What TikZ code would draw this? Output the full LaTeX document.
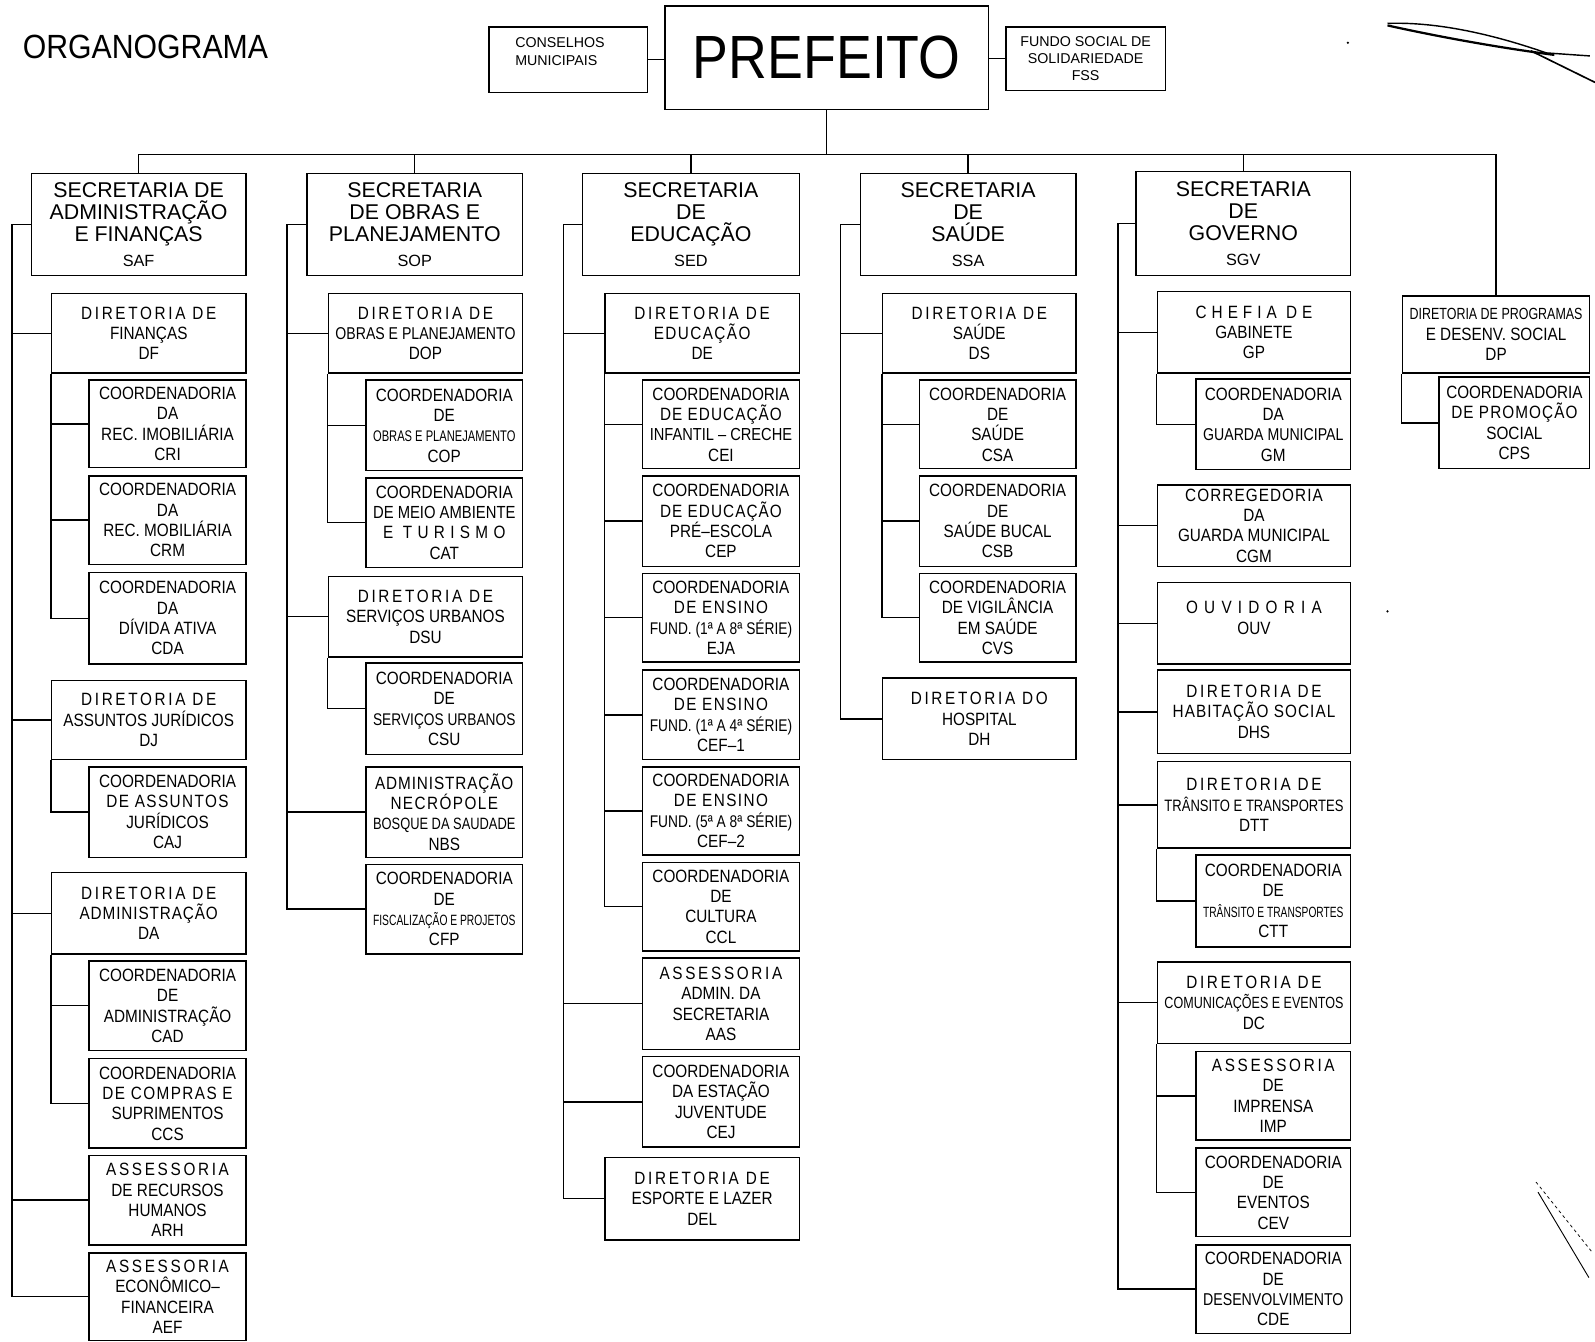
\documentclass[tikz,border=0pt]{standalone}
\usepackage{fontspec}
\usepackage{graphicx}
\setmainfont{Liberation Sans}
\newfontfamily\cf[FakeStretch=0.86]{Liberation Sans}
\newfontfamily\pf[FakeStretch=0.88]{Liberation Sans}
\newfontfamily\tf[FakeStretch=0.9]{Liberation Sans}
\newsavebox\fitbox
\newlength\fitmax
\setlength\fitmax{1000pt}
\newcommand\fl[1]{\sbox\fitbox{#1}%
  \ifdim\wd\fitbox>\fitmax
    \edef\fitr{\fpeval{\the\fitmax/\the\wd\fitbox}}%
    \edef\fity{\fpeval{(1+\fitr)/2}}%
    \scalebox{\fitr}[\fity]{\usebox\fitbox}%
  \else\usebox\fitbox\fi}
\newcommand\ws[2][15]{{\addfontfeatures{LetterSpace=#1}#2}}
\newcommand\abbr{\fontsize{16}{16}\selectfont}
\newcommand\coord{\fl{COORDENADORIA}}
\newcommand\dirde{\fl{\ws{DIRETORIA DE}}}
\tikzset{
  bx/.style={draw, line width=1.5pt, inner sep=0pt, anchor=north west, align=center,
    font=\cf\fontsize{17.5}{20}\selectfont},
  sec/.style={font=\fontsize{21}{21.5}\selectfont},
  small/.style={font=\fontsize{14}{16.5}\selectfont},
  big/.style={font=\pf\fontsize{60}{60}\selectfont},
  conn/.style={line width=1.4pt},
}
\newcommand\bxn[7][]{\node[bx,#1, minimum width={#5-#3}, minimum height={#6-#4},
  execute at begin node={\setlength\fitmax{\dimexpr #5pt-#3pt-14pt\relax}}] (#2) at (#3,#4) {#7};}
\begin{document}
\begin{tikzpicture}[x=1pt,y=-1pt]
\useasboundingbox (0,0) rectangle (1568,1319);
% title
\node[anchor=west, font=\tf\fontsize{33}{33}\selectfont] (title) at (19,46) {ORGANOGRAMA};
% top
\bxn{cons}{480}{26}{636}{90}{}
\node[anchor=west, align=left, font=\fontsize{14}{18}\selectfont] (constxt) at (503,51) {CONSELHOS\\MUNICIPAIS};
\bxn[big]{pref}{653}{5}{971}{107}{PREFEITO}
\bxn[small]{fss}{988}{26}{1145}{88}{FUNDO SOCIAL DE\\SOLIDARIEDADE\\FSS}
% secretarias
\bxn[sec]{saf}{30}{170}{241}{270}{SECRETARIA DE\\ADMINISTRAÇÃO\\E FINANÇAS\\[3pt]{\abbr SAF}}
\bxn[sec]{sop}{301}{170}{513}{270}{SECRETARIA\\DE OBRAS E\\PLANEJAMENTO\\[3pt]{\abbr SOP}}
\bxn[sec]{sed}{572}{170}{785}{270}{SECRETARIA\\DE\\EDUCAÇÃO\\[3pt]{\abbr SED}}
\bxn[sec]{ssa}{845}{170}{1057}{270}{SECRETARIA\\DE\\SAÚDE\\[3pt]{\abbr SSA}}
\bxn[sec]{sgv}{1116}{168}{1327}{270}{SECRETARIA\\DE\\GOVERNO\\[3pt]{\abbr SGV}}
% SAF column
\bxn{df}{50}{288}{241}{366}{\dirde\\FINANÇAS\\DF}
\bxn{cri}{87}{373}{241}{459}{\coord\\DA\\\fl{REC. IMOBILIÁRIA}\\CRI}
\bxn{crm}{87}{467}{241}{554}{\coord\\DA\\\fl{REC. MOBILIÁRIA}\\CRM}
\bxn{cda}{87}{562}{241}{652}{\coord\\DA\\\fl{DÍVIDA ATIVA}\\CDA}
\bxn{dj}{50}{668}{241}{746}{\dirde\\\fl{ASSUNTOS JURÍDICOS}\\DJ}
\bxn{caj}{87}{753}{241}{842}{\coord\\\fl{\ws[8]{DE ASSUNTOS}}\\JURÍDICOS\\CAJ}
\bxn{da}{50}{857}{241}{937}{\dirde\\\fl{\ws[5]{ADMINISTRAÇÃO}}\\DA}
\bxn{cad}{87}{944}{241}{1032}{\coord\\DE\\\fl{ADMINISTRAÇÃO}\\CAD}
\bxn{ccs}{87}{1040}{241}{1128}{\coord\\\fl{\ws[8]{DE COMPRAS E}}\\\fl{SUPRIMENTOS}\\CCS}
\bxn{arh}{87}{1135}{241}{1223}{\fl{\ws{ASSESSORIA}}\\\fl{DE RECURSOS}\\HUMANOS\\ARH}
\bxn{aef}{87}{1231}{241}{1317}{\fl{\ws{ASSESSORIA}}\\ECONÔMICO–\\FINANCEIRA\\AEF}
% SOP column
\bxn{dop}{322}{288}{513}{366}{\dirde\\\fl{OBRAS E PLANEJAMENTO}\\DOP}
\bxn{cop}{359}{373}{513}{462}{\coord\\DE\\\fl{OBRAS E PLANEJAMENTO}\\COP}
\bxn{cat}{359}{469}{513}{557}{\coord\\\fl{DE MEIO AMBIENTE}\\\fl{\ws[30]{E TURISMO}}\\CAT}
\bxn{dsu}{322}{566}{513}{645}{\dirde\\\fl{SERVIÇOS URBANOS}\\DSU}
\bxn{csu}{359}{651}{513}{741}{\coord\\DE\\\fl{SERVIÇOS URBANOS}\\CSU}
\bxn{nbs}{359}{753}{513}{842}{\fl{\ws[5]{ADMINISTRAÇÃO}}\\\fl{\ws[8]{NECRÓPOLE}}\\\fl{BOSQUE DA SAUDADE}\\NBS}
\bxn{cfp}{359}{849}{513}{937}{\coord\\DE\\\fl{FISCALIZAÇÃO E PROJETOS}\\CFP}
% SED column
\bxn{de}{594}{288}{785}{366}{\dirde\\\ws[8]{EDUCAÇÃO}\\DE}
\bxn{cei}{631}{373}{785}{460}{\coord\\\fl{\ws[6]{DE EDUCAÇÃO}}\\\fl{INFANTIL – CRECHE}\\CEI}
\bxn{cep}{631}{467}{785}{556}{\coord\\\fl{\ws[6]{DE EDUCAÇÃO}}\\\fl{PRÉ–ESCOLA}\\CEP}
\bxn{eja}{631}{563}{785}{650}{\coord\\\fl{\ws[8]{DE ENSINO}}\\\fl{FUND. (1ª A 8ª SÉRIE)}\\EJA}
\bxn{cefa}{631}{658}{785}{746}{\coord\\\fl{\ws[8]{DE ENSINO}}\\\fl{FUND. (1ª A 4ª SÉRIE)}\\CEF–1}
\bxn{cefb}{631}{753}{785}{840}{\coord\\\fl{\ws[8]{DE ENSINO}}\\\fl{FUND. (5ª A 8ª SÉRIE)}\\CEF–2}
\bxn{ccl}{631}{847}{785}{934}{\coord\\DE\\CULTURA\\CCL}
\bxn{aas}{631}{941}{785}{1031}{\fl{\ws{ASSESSORIA}}\\ADMIN. DA\\SECRETARIA\\AAS}
\bxn{cej}{631}{1038}{785}{1127}{\coord\\\fl{DA ESTAÇÃO}\\JUVENTUDE\\CEJ}
\bxn{del}{594}{1137}{785}{1218}{\dirde\\\fl{ESPORTE E LAZER}\\DEL}
% SSA column
\bxn{ds}{867}{288}{1057}{366}{\dirde\\SAÚDE\\DS}
\bxn{csa}{903}{373}{1057}{460}{\coord\\DE\\SAÚDE\\CSA}
\bxn{csb}{903}{467}{1057}{556}{\coord\\DE\\\fl{SAÚDE BUCAL}\\CSB}
\bxn{cvs}{903}{563}{1057}{650}{\coord\\\fl{DE VIGILÂNCIA}\\\fl{EM SAÚDE}\\CVS}
\bxn{dh}{867}{666}{1057}{746}{\fl{\ws{DIRETORIA DO}}\\HOSPITAL\\DH}
% SGV column
\bxn{gp}{1137}{286}{1327}{366}{\fl{\ws[28]{CHEFIA DE}}\\GABINETE\\GP}
\bxn{gm}{1175}{372}{1327}{461}{\coord\\DA\\\fl{GUARDA MUNICIPAL}\\GM}
\bxn{cgm}{1137}{476}{1327}{556}{\fl{\ws[6]{CORREGEDORIA}}\\DA\\\fl{GUARDA MUNICIPAL}\\CGM}
\bxn{ouv}{1137}{572}{1327}{652}{\fl{\ws[35]{OUVIDORIA}}\\OUV\\[-9pt]}
\bxn{dhs}{1137}{658}{1327}{740}{\dirde\\\fl{\ws[6]{HABITAÇÃO SOCIAL}}\\DHS}
\bxn{dtt}{1137}{748}{1327}{833}{\dirde\\\fl{TRÂNSITO E TRANSPORTES}\\DTT}
\bxn{ctt}{1175}{840}{1327}{930}{\coord\\DE\\\fl{TRÂNSITO E TRANSPORTES}\\CTT}
\bxn{dc}{1137}{945}{1327}{1025}{\dirde\\\fl{COMUNICAÇÕES E EVENTOS}\\DC}
\bxn{imp}{1175}{1033}{1327}{1120}{\fl{\ws{ASSESSORIA}}\\DE\\IMPRENSA\\IMP}
\bxn{cev}{1175}{1128}{1327}{1215}{\coord\\DE\\EVENTOS\\CEV}
\bxn{cde}{1175}{1223}{1327}{1310}{\coord\\DE\\\fl{DESENVOLVIMENTO}\\CDE}
% DP column
\bxn{dp}{1378}{290}{1562}{366}{\fl{DIRETORIA DE PROGRAMAS}\\\fl{E DESENV. SOCIAL}\\DP}
\bxn{cps}{1414}{370}{1562}{460}{\coord\\\fl{\ws[6]{DE PROMOÇÃO}}\\SOCIAL\\CPS}
% trunk coordinates
\coordinate (bus) at (0,152);
\coordinate (t1) at (12,0);
\coordinate (t2) at (282,0);
\coordinate (t3) at (554,0);
\coordinate (t4) at (826,0);
\coordinate (t5) at (1099,0);
% top connectors
\draw[conn] (cons.east) -- (cons.east -| pref.west);
\draw[conn] (fss.west) -- (fss.west -| pref.east);
\draw[conn] (pref.south) -- (pref.south |- bus);
\draw[conn] (saf.north) -- (saf.north |- bus) -- (dp.north |- bus) -- (dp.north);
\foreach \n in {sop,sed,ssa,sgv} \draw[conn] (\n.north) -- (\n.north |- bus);
% SAF
\draw[conn] (saf.west) -- (saf.west -| t1) |- (aef.west);
\foreach \n in {df,dj,da,arh} \draw[conn] (\n.west) -- (\n.west -| t1);
\draw[conn] (df.south west) |- (cda.west);
\foreach \n in {cri,crm} \draw[conn] (\n.west) -- (\n.west -| df.south west);
\draw[conn] (dj.south west) |- (caj.west);
\draw[conn] (da.south west) |- (ccs.west);
\draw[conn] (cad.west) -- (cad.west -| da.south west);
% SOP
\draw[conn] (sop.west) -- (sop.west -| t2) |- (cfp.west);
\foreach \n in {dop,dsu,nbs} \draw[conn] (\n.west) -- (\n.west -| t2);
\draw[conn] (dop.south west) |- (cat.west);
\draw[conn] (cop.west) -- (cop.west -| dop.south west);
\draw[conn] (dsu.south west) |- (csu.west);
% SED
\draw[conn] (sed.west) -- (sed.west -| t3) |- (del.west);
\foreach \n in {de,aas,cej} \draw[conn] (\n.west) -- (\n.west -| t3);
\draw[conn] (de.south west) |- (ccl.west);
\foreach \n in {cei,cep,eja,cefa,cefb} \draw[conn] (\n.west) -- (\n.west -| de.south west);
% SSA
\draw[conn] (ssa.west) -- (ssa.west -| t4) |- (dh.west);
\draw[conn] (ds.west) -- (ds.west -| t4);
\draw[conn] (ds.south west) |- (cvs.west);
\foreach \n in {csa,csb} \draw[conn] (\n.west) -- (\n.west -| ds.south west);
% SGV
\draw[conn] (sgv.west) -- (sgv.west -| t5) |- (cde.west);
\foreach \n in {gp,cgm,ouv,dhs,dtt,dc} \draw[conn] (\n.west) -- (\n.west -| t5);
\draw[conn] (gp.south west) |- (gm.west);
\draw[conn] (dtt.south west) |- (ctt.west);
\draw[conn] (dc.south west) |- (cev.west);
\draw[conn] (imp.west) -- (imp.west -| dc.south west);
% DP
\draw[conn] (dp.south west) |- (cps.west);
% pen marks
\draw[line width=1.4pt] (1364,23) .. controls (1420,21) and (1480,38) .. (1520,52) -- (1563,55);
\draw[line width=2.2pt] (1364,25) .. controls (1400,33) and (1460,45) .. (1528,54);
\draw[line width=1.6pt] (1505,50) -- (1568,81);
\draw[line width=0.9pt] (1512,1172) -- (1562,1256);
\draw[line width=0.7pt, dash pattern=on 3pt off 3pt] (1510,1162) -- (1566,1232);
\fill (1325,42) circle (1.2);
\fill (1364,601) circle (1.2);
\end{tikzpicture}
\end{document}
